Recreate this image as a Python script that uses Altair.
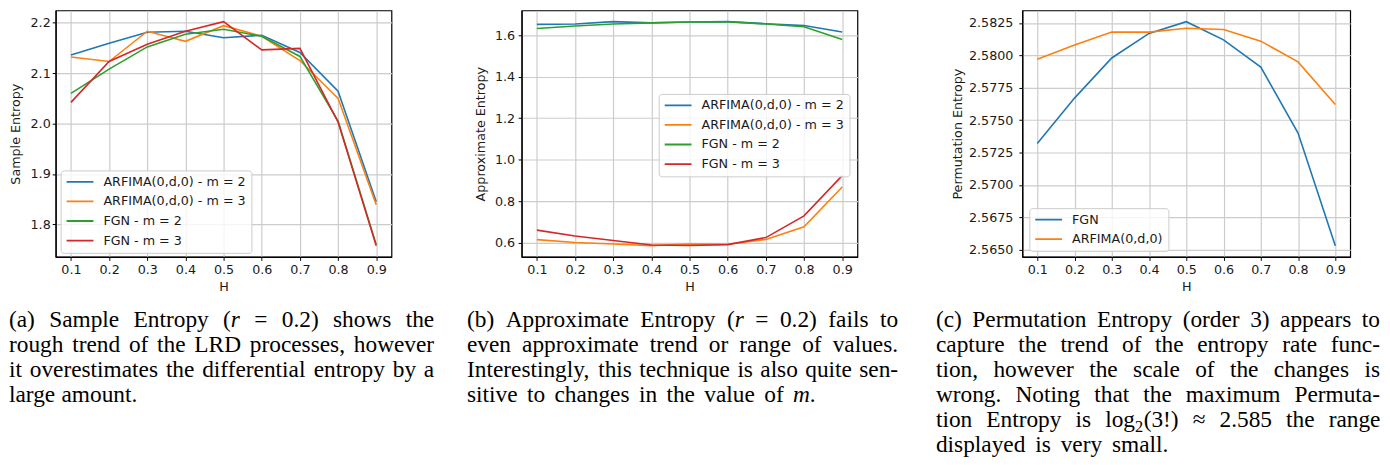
import altair as alt
import pandas as pd

# ---------------- data ----------------
H = [0.1, 0.2, 0.3, 0.4, 0.5, 0.6, 0.7, 0.8, 0.9]

names4 = ["ARFIMA(0,d,0) - m = 2", "ARFIMA(0,d,0) - m = 3", "FGN - m = 2", "FGN - m = 3"]
colors4 = ["#1f77b4", "#ff7f0e", "#2ca02c", "#d62728"]

# (a) Sample Entropy
se_arfima_m2 = [2.136, 2.159, 2.181, 2.183, 2.170, 2.175, 2.141, 2.064, 1.845]
se_arfima_m3 = [2.132, 2.123, 2.183, 2.163, 2.194, 2.173, 2.125, 2.050, 1.839]
se_fgn_m2 = [2.060, 2.108, 2.152, 2.177, 2.187, 2.173, 2.133, 2.005, 1.760]
se_fgn_m3 = [2.042, 2.123, 2.157, 2.183, 2.202, 2.146, 2.149, 2.003, 1.758]

# (b) Approximate Entropy
ae_arfima_m2 = [1.653, 1.655, 1.666, 1.660, 1.664, 1.666, 1.656, 1.647, 1.616]
ae_arfima_m3 = [0.614, 0.600, 0.593, 0.585, 0.593, 0.592, 0.615, 0.676, 0.868]
ae_fgn_m2 = [1.633, 1.645, 1.655, 1.660, 1.664, 1.665, 1.655, 1.641, 1.580]
ae_fgn_m3 = [0.660, 0.632, 0.610, 0.588, 0.586, 0.590, 0.624, 0.729, 0.923]

# (c) Permutation Entropy
names2 = ["FGN", "ARFIMA(0,d,0)"]
colors2 = ["#1f77b4", "#ff7f0e"]
pe_fgn = [2.5732, 2.5767, 2.5798, 2.5817, 2.5826, 2.5812, 2.5791, 2.5740, 2.5653]
pe_arfima = [2.5797, 2.5808, 2.5818, 2.5818, 2.5821, 2.5820, 2.5811, 2.5795, 2.5762]

yticks_a = [1.8, 1.9, 2.0, 2.1, 2.2]
yticks_b = [0.6, 0.8, 1.0, 1.2, 1.4, 1.6]
yticks_c = [2.5650, 2.5675, 2.5700, 2.5725, 2.5750, 2.5775, 2.5800, 2.5825]

cap_a = [
    "(a) Sample Entropy (|~r = 0.2) shows the",
    "rough trend of the LRD processes, however",
    "it overestimates the differential entropy by a",
    "large amount.",
]
cap_b = [
    "(b) Approximate Entropy (|~r = 0.2) fails to",
    "even approximate trend or range of values.",
    "Interestingly, this technique is also quite sen-",
    "sitive to changes in the value of ~m|.",
]
cap_c = [
    "(c) Permutation Entropy (order 3) appears to",
    "capture the trend of the entropy rate func-",
    "tion, however the scale of the changes is",
    "wrong. Noting that the maximum Permuta-",
    "tion Entropy is log|^2|(3!) ≈ 2.585 the range",
    "displayed is very small.",
]

# ---------------- layout ----------------
HT = 248
FONT = "DejaVu Sans"
FS = 12.8
LFS = 12.8
L_a, W_a, R_a = 47, 338, 59
L_b, W_b, R_b = 70, 338, 64
L_c, W_c, R_c = 100, 330, 30
left_a = 8 + L_a
left_b = left_a + W_a + R_a + L_b
left_c = left_b + W_b + R_b + L_c

# Times-Roman advance widths (1/1000 em)
TW = {' ': 250, '!': 333, '(': 333, ')': 333, ',': 250, '-': 333, '.': 250, '=': 564, '≈': 549,
      'A': 722, 'B': 667, 'C': 667, 'D': 722, 'E': 611, 'F': 556, 'G': 722, 'H': 722, 'I': 333,
      'L': 611, 'M': 889, 'N': 722, 'O': 722, 'P': 556, 'R': 667, 'S': 556, 'T': 611,
      'a': 444, 'b': 500, 'c': 444, 'd': 500, 'e': 444, 'f': 333, 'g': 500, 'h': 500, 'i': 278,
      'j': 278, 'k': 500, 'l': 278, 'm': 778, 'n': 500, 'o': 500, 'p': 500, 'q': 500, 'r': 333,
      's': 389, 't': 278, 'u': 500, 'v': 500, 'w': 722, 'x': 500, 'y': 500, 'z': 444}
TI = {'r': 389, 'm': 722}
for d in "0123456789":
    TW[d] = 500

CFS = 23.5


def seg_width(text, style, fs):
    if style == 'i':
        return sum(TI.get(ch, TW.get(ch, 500)) for ch in text) * fs / 1000
    if style == 's':
        return sum(TW.get(ch, 500) for ch in text) * fs * 0.7 / 1000
    return sum(TW.get(ch, 500) for ch in text) * fs / 1000


def caption_rows(lines, x0_abs, x1_abs, last_end_abs, plot_left):
    rows = []
    for k, line in enumerate(lines):
        words = []
        for w in line.split(' '):
            segs = []
            for s in w.split('|'):
                if s.startswith('~'):
                    segs.append((s[1:], 'i'))
                elif s.startswith('^'):
                    segs.append((s[1:], 's'))
                else:
                    segs.append((s, 'n'))
            words.append(segs)
        wsum = sum(seg_width(t, st, CFS) for segs in words for t, st in segs)
        last = k == len(lines) - 1
        end = last_end_abs if last else x1_abs
        if end is None:
            gap = 0.25 * CFS
        else:
            gap = (end - x0_abs - wsum) / max(len(words) - 1, 1)
        x = x0_abs
        yb = 326.5 + 25.2 * k - 8
        for segs in words:
            for t, st in segs:
                fs = CFS * 0.7 if st == 's' else CFS
                yy = yb + 0.22 * CFS if st == 's' else yb
                rows.append({"t": t, "px": x - plot_left, "py": yy, "fs": fs,
                             "it": 1 if st == 'i' else 0})
                x += seg_width(t, st, CFS) + (0.5 if st == 's' else 0)
            x += gap
    return pd.DataFrame(rows)


def long_df(names, series):
    rows = []
    for n, vals in zip(names, series):
        for h, v in zip(H, vals):
            rows.append({"H": h, "value": v, "series": n})
    return pd.DataFrame(rows)


def panel(df, names, colors, ydom, yticks, yfmt, ytitle, ytitle_x, lab_pad, W, L, R,
          lx, ly, cap_df):
    x = alt.X("H:Q", scale=alt.Scale(domain=[0.06, 0.94], nice=False, zero=False),
              axis=alt.Axis(values=H, format=".1f", title="H", titlePadding=5,
                            labelPadding=3, labelFontSize=FS, titleFontSize=FS))
    y = alt.Y("value:Q", scale=alt.Scale(domain=ydom, nice=False, zero=False),
              axis=alt.Axis(values=yticks, format=yfmt, title=ytitle, labelPadding=lab_pad,
                            labelFontSize=FS, titleFontSize=FS,
                            titleX=ytitle_x, titleY=HT / 2, titleAlign="center",
                            titleBaseline="middle", titleAngle=270))
    color = alt.Color("series:N", sort=names,
                      scale=alt.Scale(domain=names, range=colors),
                      legend=alt.Legend(orient="none", legendX=lx, legendY=ly, title=None,
                                        symbolType="stroke", symbolSize=729,
                                        symbolStrokeWidth=1.8, labelFont=FONT,
                                        labelFontSize=LFS, labelColor="#1a1a1a",
                                        labelOffset=9, padding=5, rowPadding=5.7,
                                        clipHeight=13,
                                        strokeColor="#cccccc",
                                        fillColor="rgba(255,255,255,0.8)",
                                        cornerRadius=3, labelLimit=400))
    lines = alt.Chart(df).mark_line(strokeWidth=1.6).encode(x=x, y=y, color=color)
    frame = alt.Chart(pd.DataFrame({"a": [0]})).mark_rule(strokeOpacity=0, opacity=0).encode(
        x=alt.value(-L), x2=alt.value(W + R), y=alt.value(0))
    base = alt.Chart(cap_df)
    enc = dict(x=alt.X("px:Q", scale=None, axis=None),
               y=alt.Y("py:Q", scale=None, axis=None),
               text="t:N",
               size=alt.Size("fs:Q", scale=None, legend=None))
    cap_n = base.transform_filter("datum.it == 0").mark_text(
        align="left", baseline="alphabetic", font="Liberation Serif", color="black").encode(**enc)
    cap_i = base.transform_filter("datum.it == 1").mark_text(
        align="left", baseline="alphabetic", font="Liberation Serif", fontStyle="italic",
        color="black").encode(**enc)
    return alt.layer(lines, frame, cap_n, cap_i).properties(width=W, height=HT)


df_a = long_df(names4, [se_arfima_m2, se_arfima_m3, se_fgn_m2, se_fgn_m3])
df_b = long_df(names4, [ae_arfima_m2, ae_arfima_m3, ae_fgn_m2, ae_fgn_m3])
df_c = long_df(names2, [pe_fgn, pe_arfima])

capdf_a = caption_rows(cap_a, 8, 436, None, left_a)
capdf_b = caption_rows(cap_b, 467, 901, 818, left_b)
capdf_c = caption_rows(cap_c, 937, 1384, 1171, left_c)

pa = panel(df_a, names4, colors4, [1.7358, 2.2242], yticks_a, ".1f", "Sample Entropy", -40, 2,
           W_a, L_a, R_a, 5, 161, capdf_a)
pb = panel(df_b, names4, colors4, [0.531, 1.720], yticks_b, ".1f", "Approximate Entropy", -41, 3.5,
           W_b, L_b, R_b, 138, 84, capdf_b)
pc = panel(df_c, names2, colors2, [2.56444, 2.58347], yticks_c, ".4f", "Permutation Entropy", -65, 6,
           W_c, L_c, R_c, 7, 199, capdf_c)

chart = alt.hconcat(pa, pb, pc, spacing=0).resolve_scale(color="independent").properties(
    padding=0, background="white"
).configure_view(stroke="black", strokeWidth=1.2).configure_axis(
    labelFont=FONT, labelFontSize=FS, labelColor="#1a1a1a",
    titleFont=FONT, titleFontSize=FS, titleFontWeight="normal", titleColor="#1a1a1a",
    grid=True, gridColor="#cccccc", gridWidth=1.2,
    domainColor="black", domainWidth=1.2,
    tickColor="black", tickSize=3.5, tickWidth=1,
)

chart.save("out.html", embed_options={"renderer": "svg", "actions": False})
